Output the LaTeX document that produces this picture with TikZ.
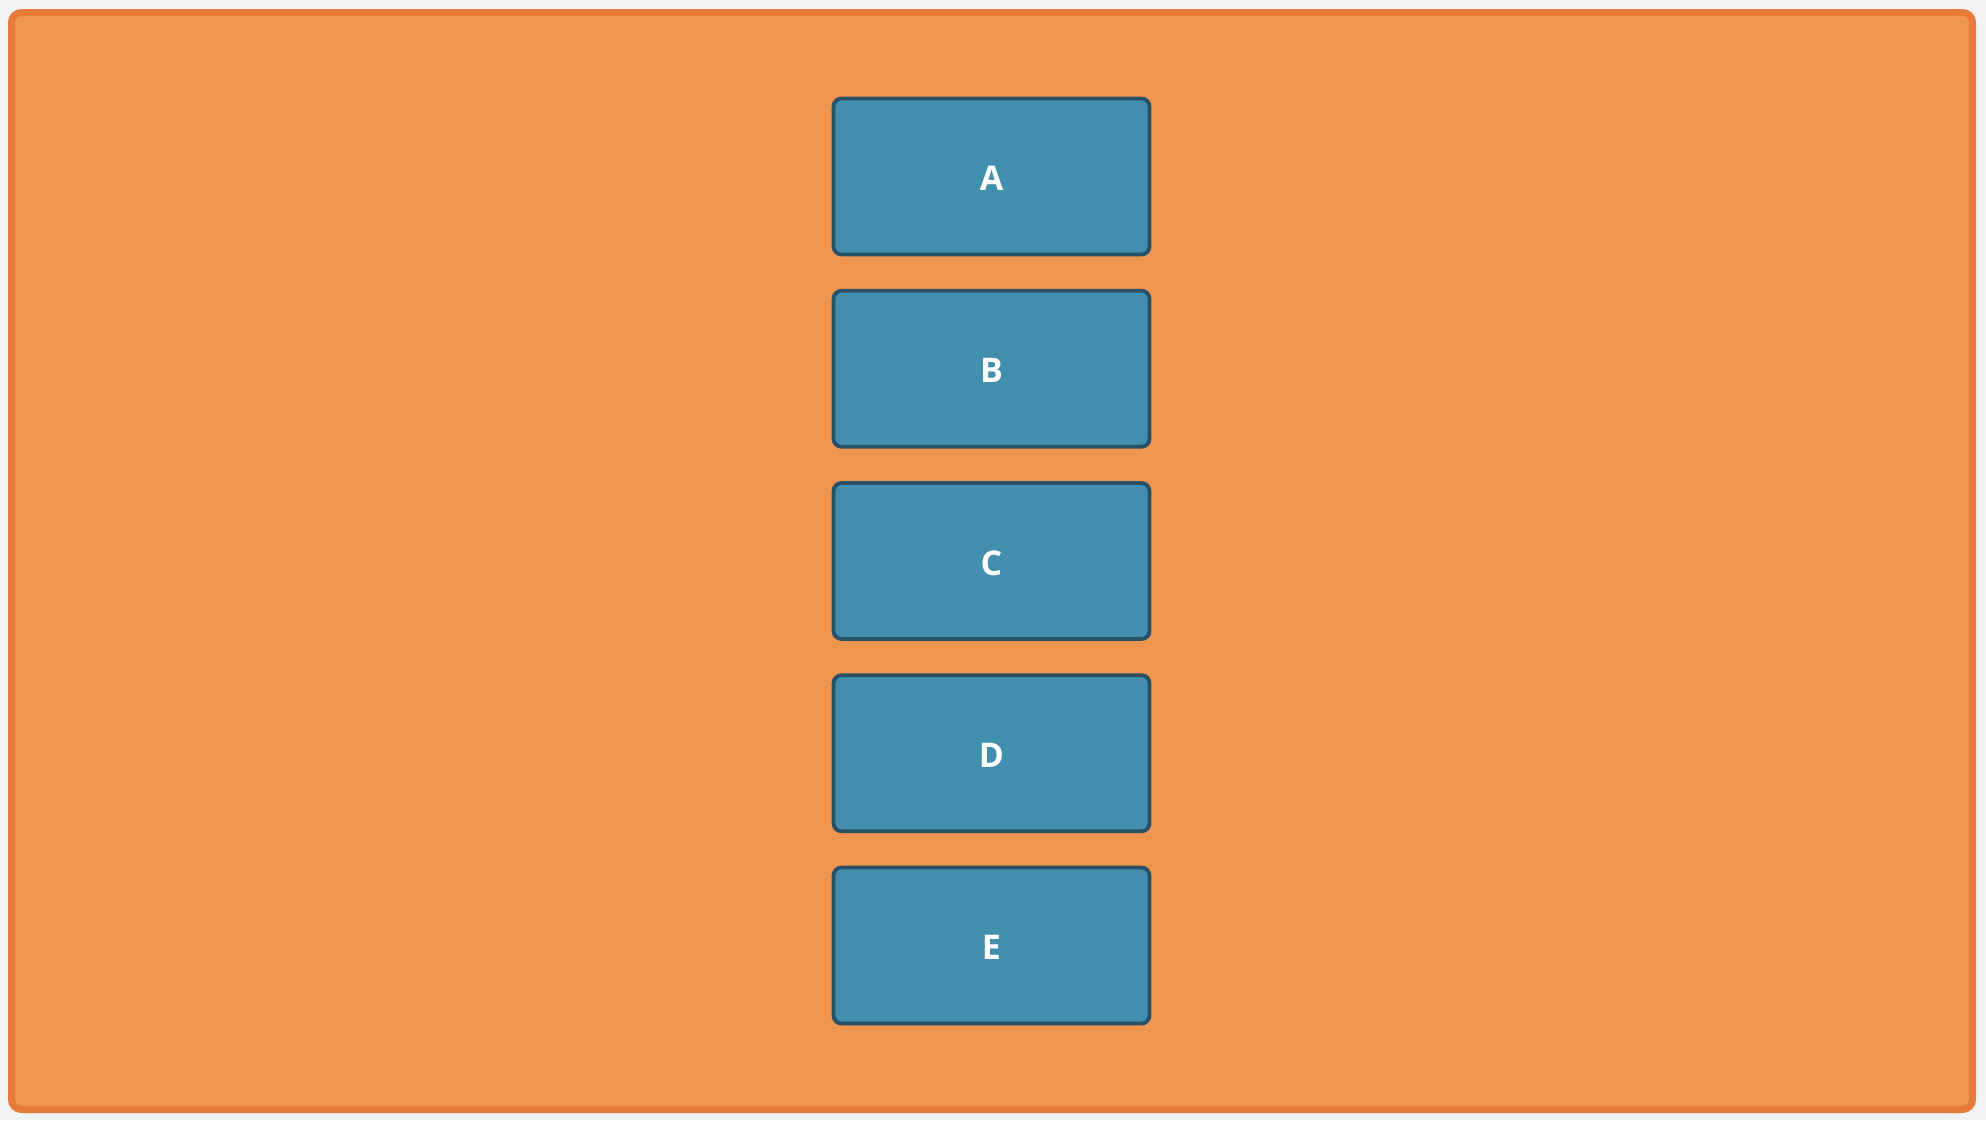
\documentclass[tikz,border=0pt]{standalone}
\usepackage{fontspec}
\setmainfont{Open Sans}
\definecolor{bgc}{HTML}{F2F3F5}
\definecolor{framefill}{HTML}{EE9550}
\definecolor{framedraw}{HTML}{E97B3A}
\definecolor{boxfill}{HTML}{418EAD}
\definecolor{boxdraw}{HTML}{2A5068}
\tikzset{
  stepbox/.style={draw=boxdraw, fill=boxfill, line width=3.8pt, rounded corners=8pt,
    minimum width=316pt, minimum height=156pt, inner sep=0pt,
    text height=28pt, text depth=0pt,
    text=white, font=\fontsize{34}{36}\selectfont\bfseries}
}
\begin{document}
\begin{tikzpicture}[x=1pt,y=-1pt]
\fill[bgc] (0,0) rectangle (1986,1120);
\useasboundingbox (0,0) rectangle (1986,1120);
\draw[framedraw, fill=framefill, line width=7pt, rounded corners=10pt] (11.5,12.5) rectangle (1972.5,1109.5);
\foreach \nm/\lb/\yy in {a/A/176.5, b/B/368.75, c/C/561, d/D/753.25, e/E/945.5}{
  \node[stepbox] (\nm) at (991.5,\yy) {\lb};
}
\end{tikzpicture}
\end{document}
